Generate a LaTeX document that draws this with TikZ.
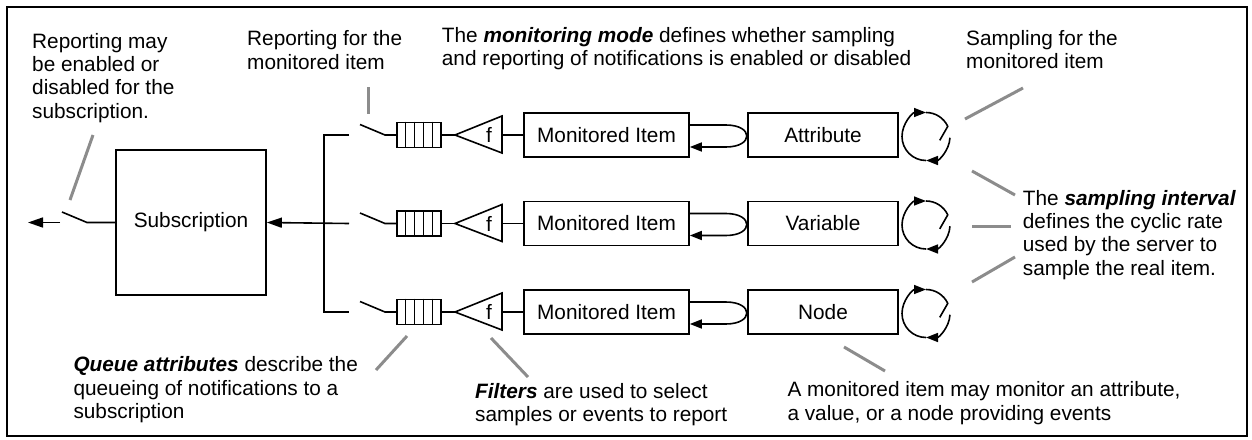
\documentclass[tikz,border=0pt]{standalone}
\usepackage{fontspec}
\setmainfont{Liberation Sans}
\usetikzlibrary{calc,arrows.meta}
\definecolor{annot}{RGB}{140,140,140}
\begin{document}
\begin{tikzpicture}[x=1pt,y=-1pt,
  every node/.style={font=\fontsize{20.8}{23.2}\selectfont},
  wire/.style={line width=1.6pt},
  box/.style={draw,line width=1.6pt,minimum width=#1,minimum height=44pt,inner sep=0pt},
  callout/.style={draw=annot,line width=3pt},
  note/.style={anchor=base west,align=left,inner sep=0pt},
  arr/.style={-{Triangle[length=15pt,width=10pt]}},
  carr/.style={-{Triangle[length=12pt,width=9pt]}}
]
\useasboundingbox (0,0) rectangle (1252,439);
\draw[line width=2pt] (7,7) rectangle (1247,436);

% subscription
\node[box=150pt,minimum height=145pt] (sub) at (191,222.5) {Subscription};

\foreach \r/\y/\src in {1/135/Attribute,2/223.5/Variable,3/312/Node}{
  \node[draw,line width=1.6pt,minimum width=44pt,minimum height=25pt,inner sep=0pt] (q\r) at (419,\y) {};
  \foreach \i in {1,...,4}
    \draw[wire] ($(q\r.north west)!\i/5!(q\r.north east)$) -- ($(q\r.south west)!\i/5!(q\r.south east)$);
  \coordinate (tip\r) at (455,\y);
  \coordinate (tt\r) at (502,\y-19);
  \coordinate (tb\r) at (502,\y+18);
  \coordinate (fo\r) at (502,\y);
  \draw[wire,line join=miter] (tip\r) -- (tt\r) -- (tb\r) -- cycle;
  \node (f\r) at (489,\y) {f};
  \node[box=165pt] (mi\r) at (606.5,\y) {Monitored Item};
  \node[box=150pt] (src\r) at (823,\y) {\src};
  \draw[wire] (q\r.east) -- (tip\r);
  \draw[wire] (fo\r) -- (mi\r.west);
  % U arrow
  \draw[wire,carr] ($(mi\r.east)+(0,-10)$) -- ++(36,0) .. controls +(28,0) and +(28,0) .. ++(0,22) -- ($(mi\r.east)+(0,12)$);
  % switch
  \coordinate (sa\r) at (360,\y-10.5);
  \coordinate (sb\r) at (385,\y);
  \draw[wire] (sa\r) -- (sb\r) -- (q\r.west);
  \coordinate (be\r) at (349,\y);
  % cyclic arrow
  \coordinate (cc\r) at (926,\y+1.5);
  \draw[wire,carr] ([shift={(-3:24pt)}]cc\r) arc[start angle=-3,end angle=-90,radius=24pt];
  \draw[wire,carr] ([shift={(-90:24pt)}]cc\r) arc[start angle=-90,end angle=-270,radius=24pt];
  \draw[wire] ([shift={(90:24pt)}]cc\r) arc[start angle=90,end angle=25,radius=24pt] -- ++(-8,14);
}

% bus
\coordinate (bt) at (324,135);
\coordinate (bb) at (324,312);
\draw[wire] (be1) -- (bt) -- (bb) -- (be3);
\draw[wire,arr] (be2) -- (sub.east);

% left switch and output
\coordinate (ls1) at (87,222.5);
\coordinate (ls2) at (62,212);
\draw[wire] (sub.west) -- (ls1) -- (ls2);
\coordinate (la1) at (60,222.5);
\coordinate (la2) at (28,222.5);
\draw[wire,arr] (la1) -- (la2);

% notes (anchor = baseline of last line)
\node[note] (n1) at (32,118) {Reporting may\\be enabled or\\disabled for the\\subscription.};
\node[note] (n2) at (247,69) {Reporting for the\\monitored item};
\node[note] (n3) at (441.7,65.5) {The \textbf{\textit{monitoring mode}} defines whether sampling\\and reporting of notifications is enabled or disabled};
\node[note] (n4) at (966,68.3) {Sampling for the\\monitored item};
\node[note] (n5) at (1022.7,275) {The \textbf{\textit{sampling interval}}\\defines the cyclic rate\\used by the server to\\sample the real item.};
\node[note] (n6) at (73.3,418.3) {\textbf{\textit{Queue attributes}} describe the\\queueing of notifications to a\\subscription};
\node[note] (n7) at (475,421.7) {\textbf{\textit{Filters}} are used to select\\samples or events to report};
\node[note] (n8) at (787.3,420) {A monitored item may monitor an attribute,\\a value, or a node providing events};

% callout lines
\coordinate (c1a) at (93,135); \coordinate (c1b) at (70,200);
\draw[callout] (c1a) -- (c1b);
\coordinate (c2a) at (368,87); \coordinate (c2b) at (368,114);
\draw[callout] (c2a) -- (c2b);
\coordinate (c3a) at (1023,88); \coordinate (c3b) at (965,119);
\draw[callout] (c3a) -- (c3b);
\coordinate (c4a) at (972,171); \coordinate (c4b) at (1015,195);
\draw[callout] (c4a) -- (c4b);
\coordinate (c5a) at (972,226); \coordinate (c5b) at (1011,226);
\draw[callout] (c5a) -- (c5b);
\coordinate (c6a) at (972,282); \coordinate (c6b) at (1015,257);
\draw[callout] (c6a) -- (c6b);
\coordinate (c7a) at (407,336); \coordinate (c7b) at (376,370);
\draw[callout] (c7a) -- (c7b);
\coordinate (c8a) at (491,338); \coordinate (c8b) at (528,377);
\draw[callout] (c8a) -- (c8b);
\coordinate (c9a) at (844,347); \coordinate (c9b) at (885,371);
\draw[callout] (c9a) -- (c9b);
\end{tikzpicture}
\end{document}
